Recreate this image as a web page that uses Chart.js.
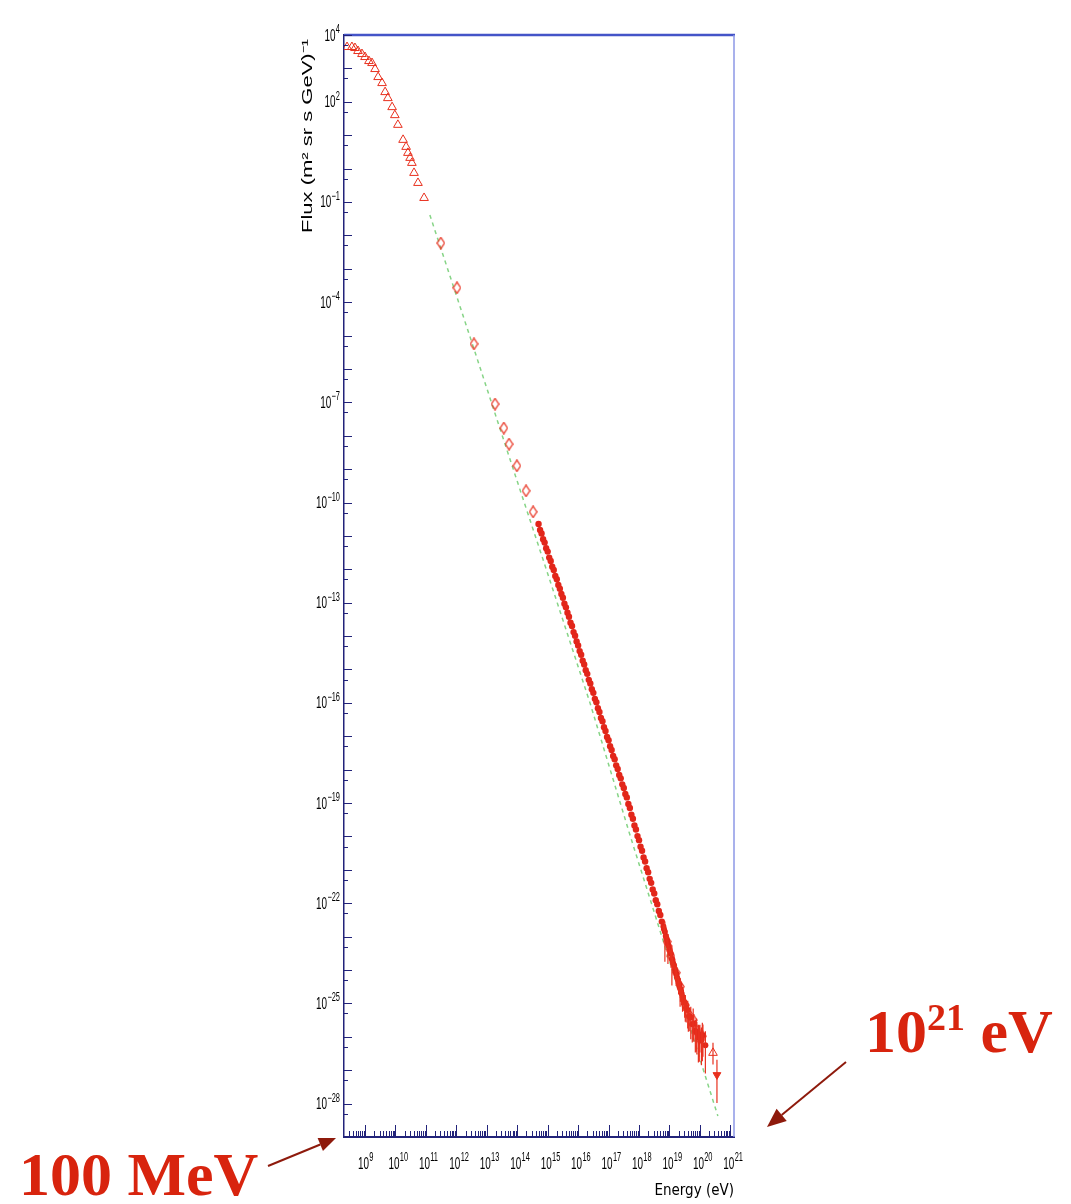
<!DOCTYPE html>
<html>
<head>
<meta charset="utf-8">
<script src="https://cdn.jsdelivr.net/npm/chart.js@4.4.1/dist/chart.umd.min.js"></script>
<style>
html,body{margin:0;padding:0;background:#fff;}
#wrap{position:relative;width:1071px;height:1204px;overflow:hidden;}
#c{position:absolute;left:0;top:0;width:1071px;height:1204px;}
.ann{position:absolute;font-family:"Liberation Serif","Times New Roman",serif;font-weight:bold;color:#d8240e;font-size:62px;line-height:1;white-space:nowrap;}
.ann sup{font-size:38px;vertical-align:top;position:relative;top:-2px;}
</style>
</head>
<body>
<div id="wrap">
<canvas id="c" width="1071" height="1204"></canvas>
<div class="ann" style="left:19px;top:1143px;">100 MeV</div>
<div class="ann" style="left:865px;top:1000px;">10<sup>21</sup> eV</div>
</div>
<script>
// ---- axis settings (log10 of eV / flux) ----
const xMinExp = 8.31, xMaxExp = 21.12;
const yMinExp = -29, yMaxExp = 4;
const xLabelExps = [9,10,11,12,13,14,15,16,17,18,19,20,21];
const yLabelExps = [4,2,-1,-4,-7,-10,-13,-16,-19,-22,-25,-28];
const xMinorMult = [2,3,4,5,6,7,8,9];
const yTitle = "Flux (m\u00B2 sr s GeV)\u207B\u00B9";
const xTitle = "Energy (eV)";

// ---- low energy data (open triangles) ----
const lowLogE = [8.41,8.57,8.67,8.77,8.90,9.00,9.13,9.23,9.33,9.43,9.56,9.66,9.75,9.89,9.98,10.08,10.25,10.35,10.41,10.48,10.54,10.61,10.74,10.94];
const lowLogF = [3.64,3.64,3.61,3.52,3.43,3.34,3.22,3.16,2.98,2.74,2.56,2.29,2.11,1.84,1.60,1.31,0.86,0.65,0.47,0.32,0.17,-0.13,-0.43,-0.88];

// ---- direct measurements (open diamonds) ----
const dirLogE = [11.49,12.02,12.58,13.27,13.56,13.73,13.99,14.29,14.52];
const dirLogF = [-2.23,-3.57,-5.25,-7.05,-7.77,-8.25,-8.90,-9.65,-10.28];

// ---- air shower data (filled dots) ----
const airLogE = [14.70,14.75,14.80,14.85,14.90,14.95,15.00,15.05,15.10,15.15,15.20,15.25,15.30,15.35,15.40,15.45,15.50,15.55,15.60,15.65,15.70,15.75,15.80,15.85,15.90,15.95,16.00,16.05,16.10,16.15,16.20,16.25,16.30,16.35,16.40,16.45,16.50,16.55,16.60,16.65,16.70,16.75,16.80,16.85,16.90,16.95,17.00,17.05,17.10,17.15,17.20,17.25,17.30,17.35,17.40,17.45,17.50,17.55,17.60,17.65,17.70,17.75,17.80,17.85,17.90,17.95,18.00,18.05,18.10,18.15,18.20,18.25,18.30,18.35,18.40,18.45,18.50,18.55,18.60,18.65,18.70,18.75];
const airLogF = [-10.64,-10.82,-10.93,-11.10,-11.20,-11.37,-11.47,-11.65,-11.75,-11.92,-12.02,-12.20,-12.30,-12.47,-12.58,-12.74,-12.85,-13.03,-13.14,-13.30,-13.42,-13.60,-13.70,-13.88,-13.99,-14.16,-14.28,-14.45,-14.56,-14.74,-14.85,-15.02,-15.13,-15.31,-15.42,-15.59,-15.70,-15.88,-15.98,-16.16,-16.27,-16.45,-16.55,-16.73,-16.84,-17.02,-17.12,-17.30,-17.41,-17.59,-17.69,-17.87,-17.98,-18.16,-18.26,-18.44,-18.55,-18.73,-18.83,-19.03,-19.15,-19.35,-19.47,-19.67,-19.79,-19.99,-20.11,-20.31,-20.43,-20.63,-20.75,-20.95,-21.07,-21.27,-21.39,-21.59,-21.71,-21.91,-22.03,-22.23,-22.35,-22.55];

// ---- highest energies (filled dots with error bars) ----
const tailLogE = [18.80,18.82,18.85,18.88,18.90,18.93,18.95,18.98,19.00,19.02,19.05,19.08,19.10,19.12,19.15,19.18,19.20,19.23,19.25,19.28,19.30,19.33,19.35,19.38,19.40,19.43,19.45,19.50,19.55,19.60,19.65,19.70,19.75,19.80,19.85,19.90,19.95,20.00,20.05,20.10,20.18];
const tailLogF = [-22.70,-22.78,-22.85,-22.98,-23.05,-23.12,-23.22,-23.28,-23.38,-23.45,-23.52,-23.66,-23.70,-23.80,-23.86,-23.98,-24.05,-24.12,-24.22,-24.30,-24.38,-24.45,-24.55,-24.62,-24.70,-24.80,-24.88,-24.98,-25.12,-25.20,-25.38,-25.42,-25.62,-25.60,-25.82,-25.88,-26.02,-25.92,-26.10,-25.95,-26.25];
const tailErrDn = [0.05,0.05,0.9,0.05,0.1,0.05,0.6,0.08,0.1,0.08,0.15,0.8,0.12,0.15,0.12,0.15,0.25,0.15,0.25,0.2,0.35,0.25,0.55,0.25,0.35,0.45,0.35,0.45,0.45,0.55,0.45,0.65,0.55,0.55,0.65,0.65,0.75,0.55,0.75,0.65,0.85];
const tailErrUp = [0.03,0.03,0.3,0.03,0.05,0.03,0.3,0.04,0.05,0.04,0.08,0.4,0.06,0.08,0.06,0.08,0.12,0.08,0.12,0.1,0.18,0.12,0.28,0.12,0.18,0.22,0.18,0.22,0.22,0.28,0.22,0.32,0.28,0.28,0.32,0.32,0.38,0.28,0.38,0.32,0.42];

// ---- other UHE measurements (open diamonds) ----
const uheLogE = [18.92,19.05,19.22,19.36,19.52,19.62,19.78,19.88,19.98,20.08];
const uheLogF = [-23.15,-23.58,-24.08,-24.50,-25.05,-25.30,-25.50,-25.80,-26.05,-25.98];
const uheErrDn = [0.3,0.35,0.4,0.45,0.5,0.55,0.6,0.65,0.7,0.75];
const uheErrUp = [0.2,0.2,0.25,0.25,0.3,0.3,0.35,0.35,0.4,0.4];

// ---- highest points: open triangle and upper limit ----
const topTriLogE = [20.43];
const topTriLogF = [-26.48];
const topTriErrDn = [0.35];
const topTriErrUp = [0.30];
const limitLogE = [20.56];
const limitLogF = [-27.14];
const limitErrDn = [0.84];
const limitErrUp = [0.45];

// ---- fitted power law (green dashed) ----
const fitLogE = [11.13,12.45,13.76,15.08,16.39,17.70,19.02,20.00,20.59];
const fitLogF = [-1.39,-5.04,-8.70,-12.35,-16.00,-19.95,-23.78,-26.66,-28.37];

const RED = '#e8301e';
const NAVY = '#22237a';
const LBL_FONT = '"Liberation Sans", Arial, sans-serif';
const LBL_SCALE = 0.62;

function pts(le, lf) { return le.map((e, i) => ({x: Math.pow(10, e), y: Math.pow(10, lf[i])})); }

// elongated diamond marker
const diamond = document.createElement('canvas');
diamond.width = 9; diamond.height = 13;
(function(){
  const g = diamond.getContext('2d');
  g.strokeStyle = RED; g.lineWidth = 1.2;
  g.beginPath(); g.moveTo(4.5,0.8); g.lineTo(8.2,6.5); g.lineTo(4.5,12.2); g.lineTo(0.8,6.5); g.closePath(); g.stroke();
})();

// "10" with raised exponent, horizontally condensed
function powLabel(ctx, exp, x, y, mode) {
  const e = String(exp).replace('-', '\u2212');
  ctx.font = '16px ' + LBL_FONT;
  const wb = ctx.measureText('10').width;
  ctx.font = '12px ' + LBL_FONT;
  const we = ctx.measureText(e).width;
  const total = (wb + 0.5 + we) * LBL_SCALE;
  let x0;
  if (mode === 'right') x0 = x - total;
  else x0 = x - (wb * LBL_SCALE) / 2 - 1.5;
  ctx.save();
  ctx.translate(x0, y);
  ctx.scale(LBL_SCALE, 1);
  ctx.textAlign = 'left'; ctx.textBaseline = 'alphabetic';
  ctx.font = '16px ' + LBL_FONT;
  ctx.fillText('10', 0, 5.5);
  ctx.font = '12px ' + LBL_FONT;
  ctx.fillText(e, wb + 0.5, -2);
  ctx.restore();
}

const decor = {
  id: 'decor',
  afterDatasetsDraw(chart) {
    const ctx = chart.ctx, xs = chart.scales.x, ys = chart.scales.y;
    ctx.save();
    ctx.strokeStyle = RED; ctx.lineWidth = 1.2;
    chart.data.datasets.forEach(ds => {
      if (!ds.errDn) return;
      ds.data.forEach((p, i) => {
        const px = xs.getPixelForValue(p.x);
        const y1 = ys.getPixelForValue(p.y * Math.pow(10, ds.errUp[i]));
        const y2 = ys.getPixelForValue(p.y / Math.pow(10, ds.errDn[i]));
        ctx.beginPath(); ctx.moveTo(px, y1); ctx.lineTo(px, y2); ctx.stroke();
      });
    });
    ctx.restore();
  },
  afterDraw(chart) {
    const ctx = chart.ctx, xs = chart.scales.x, ys = chart.scales.y, ca = chart.chartArea;
    ctx.save();
    // top and right frame
    ctx.strokeStyle = '#4454c8'; ctx.lineWidth = 2.5;
    ctx.beginPath(); ctx.moveTo(ca.left, ca.top); ctx.lineTo(ca.right + 1, ca.top); ctx.stroke();
    ctx.strokeStyle = '#8d97e6'; ctx.lineWidth = 1.5;
    ctx.beginPath(); ctx.moveTo(ca.right, ca.top); ctx.lineTo(ca.right, ca.bottom); ctx.stroke();
    // inside ticks
    ctx.strokeStyle = NAVY; ctx.lineWidth = 1;
    for (let e = 8; e <= 21; e++) {
      [1].concat(xMinorMult).forEach(m => {
        const v = m * Math.pow(10, e);
        if (v < xs.min || v > xs.max) return;
        const px = Math.round(xs.getPixelForValue(v)) + 0.5;
        const len = m === 1 ? 12 : 6;
        ctx.beginPath(); ctx.moveTo(px, ca.bottom); ctx.lineTo(px, ca.bottom - len); ctx.stroke();
      });
    }
    for (let e = yMinExp; e <= yMaxExp; e++) {
      [[1, 8], [0.5, 4]].forEach(([m, len]) => {
        const v = m * Math.pow(10, e);
        if (v < ys.min || v > ys.max) return;
        const py = Math.round(ys.getPixelForValue(v)) + 0.5;
        ctx.beginPath(); ctx.moveTo(ca.left, py); ctx.lineTo(ca.left + len, py); ctx.stroke();
      });
    }
    // tick labels
    ctx.fillStyle = '#000';
    ys.ticks.forEach(t => powLabel(ctx, Math.round(Math.log10(t.value)), ca.left - 4, ys.getPixelForValue(t.value), 'right'));
    xs.ticks.forEach(t => powLabel(ctx, Math.round(Math.log10(t.value)), xs.getPixelForValue(t.value), ca.bottom + 26, 'center'));
    // y title (compressed, rotated)
    ctx.save();
    ctx.translate(308, ca.top + 4);
    ctx.rotate(-Math.PI / 2);
    ctx.scale(1, 0.66);
    ctx.fillStyle = '#000';
    ctx.font = '22px "Liberation Sans", Arial, sans-serif';
    ctx.textAlign = 'right'; ctx.textBaseline = 'middle';
    ctx.fillText(yTitle, 0, 0);
    ctx.restore();
    // annotation arrows
    ctx.strokeStyle = '#8e1a0c'; ctx.fillStyle = '#8e1a0c'; ctx.lineWidth = 2;
    const arrow = (x1, y1, x2, y2, hl, hw) => {
      const a = Math.atan2(y2 - y1, x2 - x1);
      const bx = x2 - hl * Math.cos(a), by = y2 - hl * Math.sin(a);
      ctx.beginPath(); ctx.moveTo(x1, y1); ctx.lineTo(bx, by); ctx.stroke();
      ctx.beginPath();
      ctx.moveTo(x2, y2);
      ctx.lineTo(bx + hw * Math.sin(a), by - hw * Math.cos(a));
      ctx.lineTo(bx - hw * Math.sin(a), by + hw * Math.cos(a));
      ctx.closePath(); ctx.fill();
    };
    arrow(268, 1166, 336, 1138, 17, 7);
    arrow(846, 1062, 767, 1127, 19, 8);
    ctx.restore();
  }
};

new Chart(document.getElementById('c'), {
  type: 'scatter',
  data: {
    datasets: [
      {label: 'fit', data: pts(fitLogE, fitLogF), showLine: true, borderColor: '#86d486', borderWidth: 1.5, borderDash: [4, 4], pointRadius: 0, fill: false, order: 5},
      {label: 'low', data: pts(lowLogE, lowLogF), pointStyle: 'triangle', pointRadius: 5, borderColor: RED, backgroundColor: 'rgba(0,0,0,0)', borderWidth: 1, order: 1},
      {label: 'direct', data: pts(dirLogE, dirLogF), pointStyle: diamond, pointRadius: 5, borderColor: RED, order: 1},
      {label: 'air', data: pts(airLogE, airLogF), pointStyle: 'circle', pointRadius: 3.2, backgroundColor: '#e2261a', borderColor: '#e2261a', borderWidth: 0, order: 1},
      {label: 'tail', data: pts(tailLogE, tailLogF), errDn: tailErrDn, errUp: tailErrUp, pointStyle: 'circle', pointRadius: 3, backgroundColor: '#e2261a', borderColor: '#e2261a', borderWidth: 0, order: 1},
      {label: 'uhe', data: pts(uheLogE, uheLogF), errDn: uheErrDn, errUp: uheErrUp, pointStyle: diamond, pointRadius: 5, borderColor: RED, order: 1},
      {label: 'topTri', data: pts(topTriLogE, topTriLogF), errDn: topTriErrDn, errUp: topTriErrUp, pointStyle: 'triangle', pointRadius: 5, borderColor: RED, backgroundColor: 'rgba(0,0,0,0)', borderWidth: 1, order: 1},
      {label: 'limit', data: pts(limitLogE, limitLogF), errDn: limitErrDn, errUp: limitErrUp, pointStyle: 'triangle', rotation: 180, pointRadius: 4.5, borderColor: RED, backgroundColor: RED, borderWidth: 1, order: 1}
    ]
  },
  options: {
    responsive: false,
    animation: false,
    events: [],
    layout: {padding: {left: 300, top: 35, right: 337, bottom: 0}},
    plugins: {legend: {display: false}, tooltip: {enabled: false}},
    scales: {
      x: {
        type: 'logarithmic', position: 'bottom',
        min: Math.pow(10, xMinExp), max: Math.pow(10, xMaxExp),
        afterFit(s) { s.height = 67; },
        afterBuildTicks(s) { s.ticks = xLabelExps.map(e => ({value: Math.pow(10, e)})); },
        grid: {display: false, drawTicks: false},
        border: {display: true, color: NAVY, width: 2},
        ticks: {display: false, autoSkip: false},
        title: {display: true, text: xTitle, align: 'end', color: '#000', padding: {top: 0, bottom: 4},
          font: {family: '"Liberation Sans Narrow", "DejaVu Sans Condensed", sans-serif', size: 15}}
      },
      y: {
        type: 'logarithmic', position: 'left',
        min: Math.pow(10, yMinExp), max: Math.pow(10, yMaxExp),
        afterFit(s) { s.width = 44; },
        afterBuildTicks(s) { s.ticks = yLabelExps.map(e => ({value: Math.pow(10, e)})); },
        grid: {display: false, drawTicks: false},
        border: {display: true, color: NAVY, width: 1.5},
        ticks: {display: false, autoSkip: false}
      }
    }
  },
  plugins: [decor]
});
</script>
</body>
</html>
